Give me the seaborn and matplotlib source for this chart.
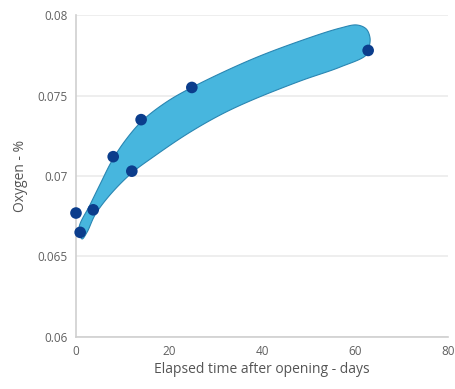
import numpy as np
import pandas as pd
import matplotlib
matplotlib.use("Agg")
import matplotlib.pyplot as plt
import seaborn as sns

# Measured oxygen content after opening
days = [0, 0.9, 3.7, 8.0, 12.0, 14.0, 24.9, 62.8]
oxygen = [0.0677, 0.0665, 0.0679, 0.0712, 0.0703, 0.0735, 0.0755, 0.0778]

# Envelope band around the trend (upper edge left->right, lower edge right->left)
band_upper_x = [0.65, 3.0, 5.2, 7.7, 10.5, 14.2, 19.1, 24.7, 37.4, 48.2, 56.8, 60.4,
                62.4, 63.2, 63.0]
band_upper_y = [0.06677, 0.06820, 0.06950, 0.07093, 0.07217, 0.07342, 0.07453, 0.07547,
                0.07720, 0.07839, 0.07919, 0.07938, 0.07913, 0.07857, 0.07801]
band_lower_x = [62.4, 56.8, 48.2, 37.4, 31.0, 23.9, 16.6, 12.0, 7.3, 4.1, 2.4, 1.3]
band_lower_y = [0.07752, 0.07677, 0.07590, 0.07466, 0.07379, 0.07261, 0.07118, 0.07019,
                0.06882, 0.06758, 0.06652, 0.06609]

x_ticks = [0, 20, 40, 60, 80]
y_ticks = [0.06, 0.065, 0.07, 0.075, 0.08]
y_tick_labels = ["0.06", "0.065", "0.07", "0.075", "0.08"]


def catmull_rom_closed(xs, ys, n=24, alpha=0.5):
    """Smooth closed (centripetal Catmull-Rom) outline through the vertices."""
    scale = np.array([80.0, 0.02 * 372 / 322])
    q = np.column_stack([xs, ys]) / scale
    m = len(q)
    out = []
    for i in range(m):
        p0, p1, p2, p3 = q[i - 1], q[i], q[(i + 1) % m], q[(i + 2) % m]
        t0 = 0.0
        t1 = t0 + np.linalg.norm(p1 - p0) ** alpha
        t2 = t1 + np.linalg.norm(p2 - p1) ** alpha
        t3 = t2 + np.linalg.norm(p3 - p2) ** alpha
        t = np.linspace(t1, t2, n, endpoint=False)[:, None]
        a1 = (t1 - t) / (t1 - t0) * p0 + (t - t0) / (t1 - t0) * p1
        a2 = (t2 - t) / (t2 - t1) * p1 + (t - t1) / (t2 - t1) * p2
        a3 = (t3 - t) / (t3 - t2) * p2 + (t - t2) / (t3 - t2) * p3
        b1 = (t2 - t) / (t2 - t0) * a1 + (t - t0) / (t2 - t0) * a2
        b2 = (t3 - t) / (t3 - t1) * a2 + (t - t1) / (t3 - t1) * a3
        out.append((t2 - t) / (t2 - t1) * b1 + (t - t1) / (t2 - t1) * b2)
    out = np.vstack(out) * scale
    return out[:, 0], out[:, 1]


sns.set_style("white")
plt.rcParams["font.family"] = ["Open Sans", "DejaVu Sans"]

fig = plt.figure(figsize=(4.55, 3.89), dpi=100)
ax = fig.add_axes([0.167, 0.1337, 0.818, 0.8277])

bx, by = catmull_rom_closed(band_upper_x + band_lower_x, band_upper_y + band_lower_y)
ax.fill(bx, by, facecolor="#47b6de", edgecolor="#2a86b2", linewidth=0.8, zorder=2)

df = pd.DataFrame({"days": days, "oxygen": oxygen})
sns.scatterplot(data=df, x="days", y="oxygen", ax=ax, color="#0b3d8c", s=70,
                edgecolor="none", zorder=3, clip_on=False)

ax.set_xlim(0, 80)
ax.set_ylim(0.06, 0.08)
ax.set_xticks(x_ticks)
ax.set_yticks(y_ticks)
ax.set_yticklabels(y_tick_labels)
ax.yaxis.grid(True, color="#ebebeb", linewidth=1.2)
ax.set_axisbelow(True)
for s in ["top", "right"]:
    ax.spines[s].set_visible(False)
for s in ["left", "bottom"]:
    ax.spines[s].set_color("#cfcfcf")
    ax.spines[s].set_linewidth(1.2)
ax.tick_params(length=0, labelsize=8.5, labelcolor="#606060", pad=6)

ax.set_xlabel("Elapsed time after opening - days", fontsize=10, color="#555555", labelpad=3)
ax.set_ylabel("Oxygen - %", fontsize=10, color="#555555", labelpad=7)

fig.savefig("out.png", dpi=100, facecolor="white")
